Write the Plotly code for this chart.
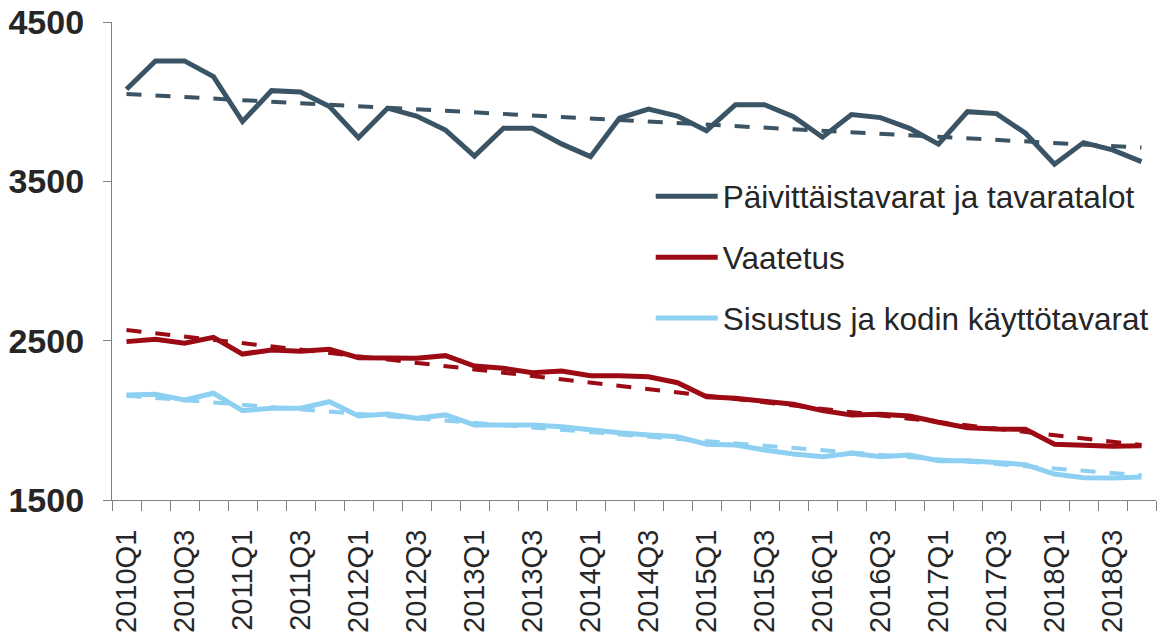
import plotly.graph_objects as go

quarters = [
    "2010Q1", "2010Q2", "2010Q3", "2010Q4",
    "2011Q1", "2011Q2", "2011Q3", "2011Q4",
    "2012Q1", "2012Q2", "2012Q3", "2012Q4",
    "2013Q1", "2013Q2", "2013Q3", "2013Q4",
    "2014Q1", "2014Q2", "2014Q3", "2014Q4",
    "2015Q1", "2015Q2", "2015Q3", "2015Q4",
    "2016Q1", "2016Q2", "2016Q3", "2016Q4",
    "2017Q1", "2017Q2", "2017Q3", "2017Q4",
    "2018Q1", "2018Q2", "2018Q3", "2018Q4",
]
tick_labels = [q if i % 2 == 0 else "" for i, q in enumerate(quarters)]

paivittais = [4078, 4256, 4256, 4157, 3875, 4069, 4061, 3969, 3774, 3959,
              3910, 3822, 3659, 3833, 3833, 3735, 3655, 3896, 3954, 3910,
              3818, 3981, 3981, 3906, 3777, 3919, 3900, 3833, 3733, 3937,
              3925, 3802, 3607, 3743, 3697, 3624]
vaatetus = [2494, 2509, 2484, 2521, 2416, 2442, 2433, 2446, 2393, 2390,
            2390, 2406, 2341, 2327, 2299, 2310, 2280, 2280, 2274, 2236,
            2148, 2138, 2123, 2101, 2061, 2034, 2038, 2027, 1988, 1954,
            1946, 1944, 1850, 1845, 1837, 1841]
sisustus = [2159, 2163, 2128, 2170, 2061, 2076, 2076, 2117, 2027, 2040,
            2013, 2034, 1971, 1971, 1971, 1960, 1939, 1922, 1908, 1897,
            1850, 1845, 1814, 1789, 1772, 1793, 1772, 1782, 1747, 1747,
            1735, 1722, 1663, 1640, 1638, 1644]

# trend line end points (first and last quarter)
trend_paivittais = [4048, 3712]
trend_vaatetus = [2567, 1845]
trend_sisustus = [2155, 1655]

names = ["Päivittäistavarat ja tavaratalot", "Vaatetus", "Sisustus ja kodin käyttötavarat"]
colors = ["#3B5465", "#9C0B14", "#8DD0F2"]
series = [paivittais, vaatetus, sisustus]
trends = [trend_paivittais, trend_vaatetus, trend_sisustus]

fig = go.Figure()
for i, (name, col, vals, tr) in enumerate(zip(names, colors, series, trends)):
    fig.add_trace(go.Scatter(
        x=quarters, y=vals, mode="lines", name=name,
        line=dict(color=col, width=5), legendgroup=f"g{i}",
    ))
    fig.add_trace(go.Scatter(
        x=[quarters[0], quarters[-1]], y=tr, mode="lines", showlegend=False,
        line=dict(color=col, width=4, dash="15px,14px"), hoverinfo="skip",
    ))

fig.update_layout(
    width=1159, height=635,
    margin=dict(l=112, r=3, t=22, b=135),
    paper_bgcolor="white", plot_bgcolor="white",
    font=dict(family="Liberation Sans, Arial, sans-serif", color="#262626"),
    legend=dict(
        x=0.516, y=0.692, xanchor="left", yanchor="top",
        font=dict(size=31.5, color="#262626"),
        itemwidth=62, tracegroupgap=17, traceorder="grouped",
        bgcolor="rgba(0,0,0,0)",
    ),
    xaxis=dict(
        type="category", categoryorder="array", categoryarray=quarters,
        tickmode="array", tickvals=quarters, ticktext=tick_labels,
        tickson="boundaries", ticks="outside", ticklen=10, tickwidth=1.3,
        tickcolor="#7f7f7f", showline=True, linecolor="#7f7f7f", linewidth=1.3,
        showgrid=False, tickangle=-90, tickfont=dict(size=29, color="#262626"),
        range=[-0.5, 35.5], ticklabelstandoff=17, automargin=False,
    ),
    yaxis=dict(
        range=[1500, 4500], tickmode="array", tickvals=[1500, 2500, 3500, 4500],
        ticks="outside", ticklen=8, tickwidth=1.3, tickcolor="#7f7f7f",
        showline=True, linecolor="#7f7f7f", linewidth=1.3, showgrid=False,
        zeroline=False, automargin=False,
        tickfont=dict(size=34, color="#262626", family="Liberation Sans, Arial, sans-serif", weight="bold"),
        ticklabelstandoff=12,
    ),
)

fig.write_html("out.html", config={"displayModeBar": False},
               post_script="document.body.style.margin='0px';")
